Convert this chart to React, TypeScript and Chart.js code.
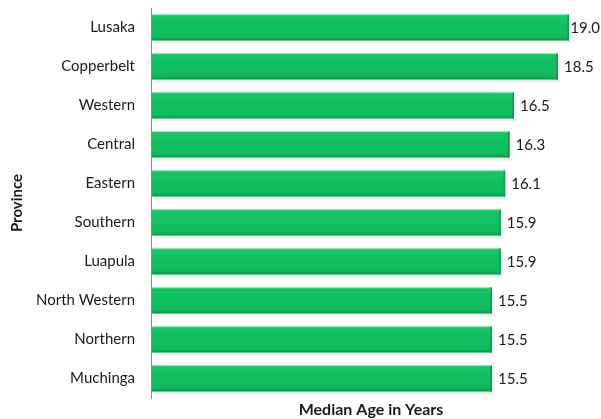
import React, { useEffect, useRef } from "react";
import { Chart, registerables } from "chart.js";
Chart.register(...registerables);

const provinces = ["Lusaka", "Copperbelt", "Western", "Central", "Eastern", "Southern", "Luapula", "North Western", "Northern", "Muchinga"];
const medianAge = [19.0, 18.5, 16.5, 16.3, 16.1, 15.9, 15.9, 15.5, 15.5, 15.5];
const FONT = "Lato, 'Open Sans', sans-serif";

const barStyle = {
  id: "barStyle",
  afterDatasetsDraw(chart: any) {
    const ctx = chart.ctx;
    const meta = chart.getDatasetMeta(0);
    ctx.save();
    meta.data.forEach((el: any, i: number) => {
      const { x, y, base, height } = el.getProps(["x", "y", "base", "height"], true);
      const top = y - height / 2;
      const left = base;
      const w = x - base;
      // shadow under bar
      ctx.fillStyle = "rgba(0,0,0,0.07)";
      ctx.fillRect(left + 2, top + height, w, 3);
      const g = ctx.createLinearGradient(0, top, 0, top + height);
      g.addColorStop(0, "#3cd683");
      g.addColorStop(0.08, "#16c463");
      g.addColorStop(0.85, "#0fbb5b");
      g.addColorStop(1, "#08984a");
      ctx.fillStyle = g;
      ctx.fillRect(left + 1, top, w - 1, height);
      ctx.fillStyle = "#0a9a4a";
      ctx.fillRect(x - 1.5, top, 1.5, height);
      // label
      const txt = medianAge[i].toFixed(1);
      ctx.fillStyle = "#1a1a1a";
      ctx.font = "15px " + FONT;
      ctx.textAlign = "left";
      ctx.textBaseline = "middle";
      const tw = ctx.measureText(txt).width;
      const lx = Math.min(x + 6, chart.width - tw - 1);
      ctx.fillText(txt, lx, y + 1);
    });
    ctx.restore();
  },
};

export default function App() {
  const ref = useRef<HTMLCanvasElement>(null);
  useEffect(() => {
    document.body.style.margin = "0";
    const chart = new Chart(ref.current!, {
      type: "bar",
      data: {
        labels: provinces,
        datasets: [
          {
            data: medianAge,
            backgroundColor: "rgba(0,0,0,0)",
            barPercentage: 0.67,
            categoryPercentage: 1,
          },
        ],
      },
      options: {
        indexAxis: "y",
        animation: false,
        responsive: false,
        layout: { padding: { top: 8, right: 10, left: 0, bottom: 0 } },
        plugins: { legend: { display: false }, tooltip: { enabled: false } },
        scales: {
          x: {
            min: 0,
            max: 20,
            grid: { display: false },
            border: { display: false },
            ticks: { display: false },
            title: {
              display: true,
              text: "Median Age in Years",
              color: "#1a1a1a",
              font: { family: FONT, size: 16, weight: "bold" },
              padding: { top: 1, bottom: 0 },
            },
            afterFit: (s: any) => {
              s.height = 21;
              s.paddingLeft = 0;
              s.paddingRight = 0;
            },
          },
          y: {
            grid: { display: false, drawTicks: false },
            border: { display: true, color: "#8c8c8c", width: 1 },
            ticks: {
              color: "#1a1a1a",
              font: { family: FONT, size: 15 },
              padding: 16,
            },
            title: {
              display: true,
              text: "Province",
              color: "#1a1a1a",
              font: { family: FONT, size: 15, weight: "bold" },
              padding: { top: 8, bottom: 0 },
            },
            afterFit: (s: any) => {
              s.width = 151;
              s.paddingTop = 0;
              s.paddingBottom = 0;
            },
          },
        },
      },
      plugins: [barStyle],
    });
    return () => chart.destroy();
  }, []);
  return (
    <div style={{ width: 601, height: 419, background: "#fff" }}>
      <canvas ref={ref} width={601} height={419} />
    </div>
  );
}
